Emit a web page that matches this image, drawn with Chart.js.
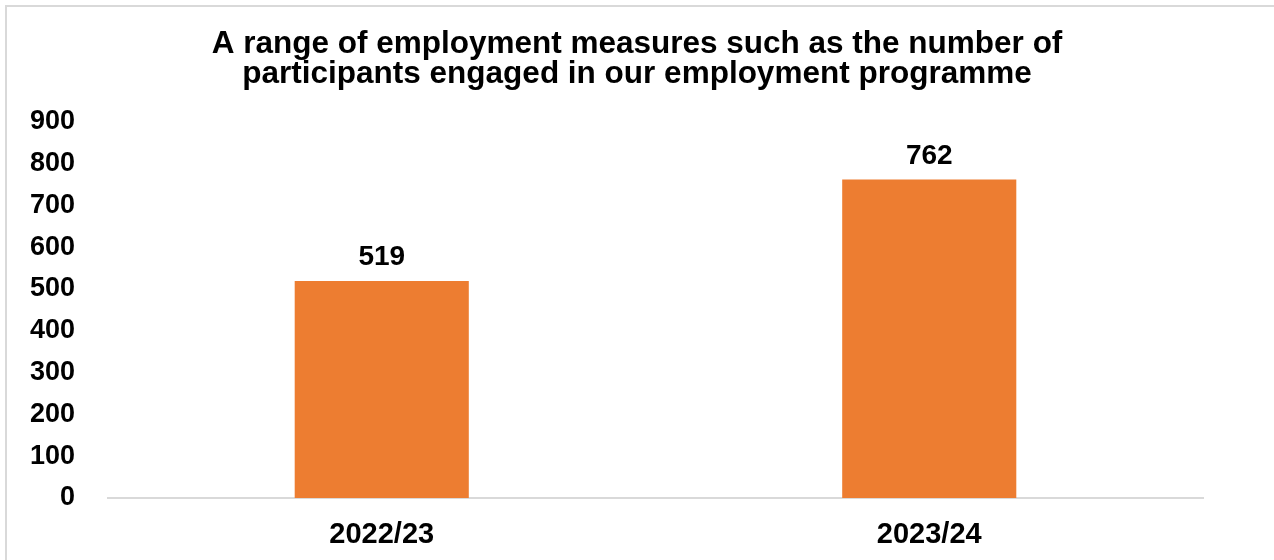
<!DOCTYPE html>
<html>
<head>
<meta charset="utf-8">
<script src="https://cdn.jsdelivr.net/npm/chart.js@4.4.1/dist/chart.umd.min.js"></script>
<style>
  html, body { margin: 0; padding: 0; background: #fff; overflow: hidden; }
  #frame { position: absolute; left: 5px; top: 5px; width: 1400px; height: 700px;
           border-top: 2px solid #d9d9d9; border-left: 2px solid #d9d9d9; }
  #wrap { position: absolute; left: 0; top: 0; width: 1274px; height: 560px; }
</style>
</head>
<body>
<div id="frame"></div>
<div id="wrap"><canvas id="employmentChart" width="1274" height="560"></canvas></div>
<script>
const years = ['2022/23', '2023/24'];
const participants = [519, 762];
const yTicks = [0, 100, 200, 300, 400, 500, 600, 700, 800, 900];
const titleLines = [
  'A range of employment measures such as the number of',
  'participants engaged in our employment programme'
];

const fontFamily = '"Liberation Sans", Arial, sans-serif';

// Draw the value above each bar
const valueLabels = {
  id: 'valueLabels',
  afterDatasetsDraw(chart) {
    const ctx = chart.ctx;
    const meta = chart.getDatasetMeta(0);
    ctx.save();
    ctx.font = 'bold 28px ' + fontFamily;
    ctx.fillStyle = '#000';
    ctx.textAlign = 'center';
    ctx.textBaseline = 'alphabetic';
    meta.data.forEach((bar, i) => {
      ctx.fillText(String(participants[i]), bar.x, bar.y - 16);
    });
    ctx.restore();
  }
};

new Chart(document.getElementById('employmentChart'), {
  type: 'bar',
  data: {
    labels: years,
    datasets: [{
      data: participants,
      backgroundColor: '#ED7D31',
      borderWidth: 0,
      barPercentage: 0.318,
      categoryPercentage: 1
    }]
  },
  options: {
    responsive: false,
    animation: false,
    layout: { padding: 0 },
    plugins: {
      legend: { display: false },
      tooltip: { enabled: false },
      title: {
        display: true,
        text: titleLines,
        color: '#000',
        font: { family: fontFamily, size: 31.5, weight: 'bold', lineHeight: 0.95 },
        padding: { top: 29, bottom: 33 }
      }
    },
    scales: {
      y: {
        min: 0,
        max: 900,
        afterBuildTicks(scale) {
          scale.ticks = yTicks.map(v => ({ value: v }));
        },
        afterFit(scale) { scale.width = 108; },
        grid: { display: false },
        border: { display: false },
        ticks: {
          color: '#000',
          padding: 25,
          font: { family: fontFamily, size: 27, weight: 'bold' }
        }
      },
      // empty right-hand spacer so the plot ends short of the edge
      yRight: {
        position: 'right',
        min: 0,
        max: 900,
        afterFit(scale) { scale.width = 71; },
        grid: { display: false },
        border: { display: false },
        ticks: { display: false }
      },
      x: {
        afterFit(scale) { scale.height = 62; },
        grid: { display: false },
        border: { display: true, color: '#d9d9d9', width: 2 },
        ticks: {
          color: '#000',
          padding: 12,
          font: { family: fontFamily, size: 29, weight: 'bold' }
        }
      }
    }
  },
  plugins: [valueLabels]
});
</script>
</body>
</html>
